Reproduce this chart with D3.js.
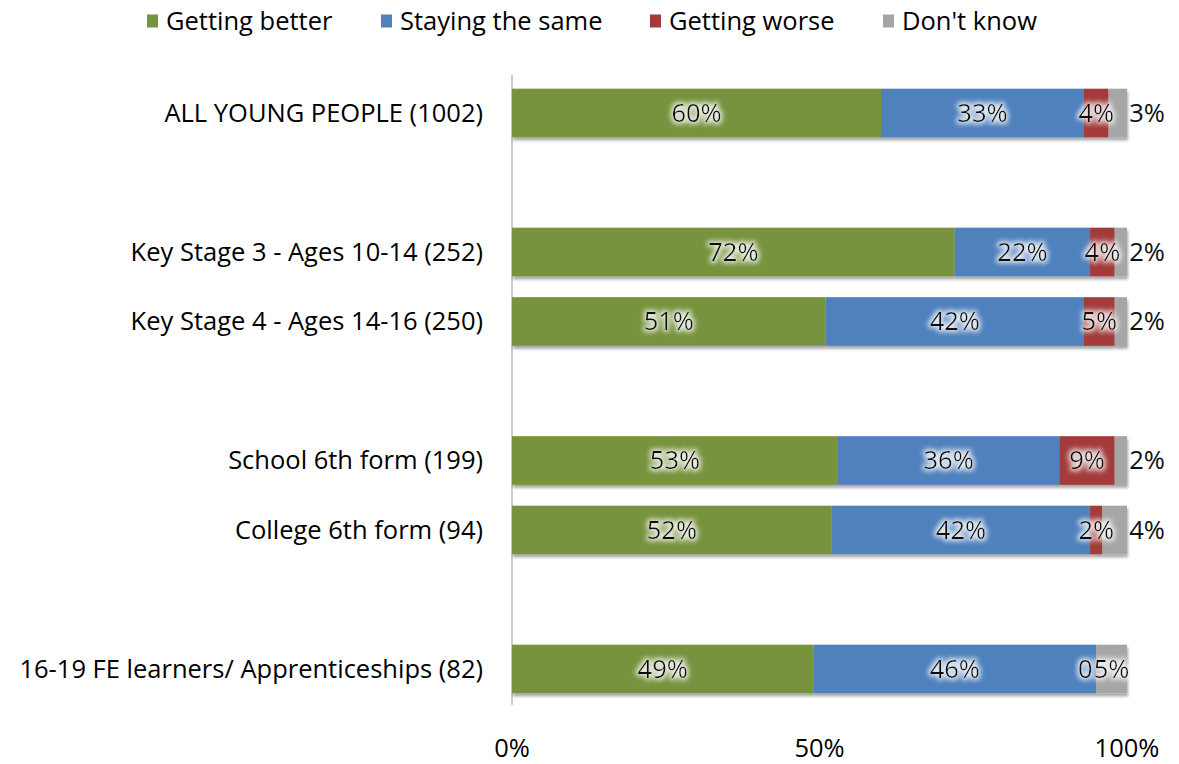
<!DOCTYPE html>
<html>
<head>
<meta charset="utf-8">
<script src="https://cdn.jsdelivr.net/npm/d3@7"></script>
<style>
  html, body { margin: 0; padding: 0; background: #fff; }
  svg { display: block; }
  text { font-family: "Open Sans", Arial, sans-serif; }
</style>
</head>
<body>
<svg id="chart" width="1179" height="764"></svg>
<script>
// Row labels; empty strings are spacer rows between groups
const categories = [
  "ALL YOUNG PEOPLE (1002)",
  "",
  "Key Stage 3 - Ages 10-14 (252)",
  "Key Stage 4 - Ages 14-16 (250)",
  "",
  "School 6th form (199)",
  "College 6th form (94)",
  "",
  "16-19 FE learners/ Apprenticeships (82)"
];
const seriesNames = ["Getting better", "Staying the same", "Getting worse", "Don't know"];
const gettingBetter   = [60, null, 72, 51, null, 53, 52, null, 49];
const stayingTheSame  = [33, null, 22, 42, null, 36, 42, null, 46];
const gettingWorse    = [4,  null, 4,  5,  null, 9,  2,  null, 0];
const dontKnow        = [3,  null, 2,  2,  null, 2,  4,  null, 5];
const tickLabels = ["0%", "50%", "100%"];
const tickValues = [0, 50, 100];

const colors = ["#77933C", "#4F81BD", "#A33B3A", "#A6A6A6"];
const seriesValues = [gettingBetter, stayingTheSame, gettingWorse, dontKnow];
const FS = 25.5;

const svg = d3.select("#chart");
const defs = svg.append("defs");

// soft shadow under bars
const sh = defs.append("filter").attr("id", "barShadow")
  .attr("x", "-5%").attr("y", "-20%").attr("width", "110%").attr("height", "150%");
sh.append("feGaussianBlur").attr("in", "SourceAlpha").attr("stdDeviation", 1.6).attr("result", "b");
sh.append("feOffset").attr("in", "b").attr("dx", 1).attr("dy", 3).attr("result", "o");
sh.append("feComponentTransfer").attr("in", "o").attr("result", "o2")
  .append("feFuncA").attr("type", "linear").attr("slope", 0.35);
const shm = sh.append("feMerge");
shm.append("feMergeNode").attr("in", "o2");
shm.append("feMergeNode").attr("in", "SourceGraphic");

// light halo around the value labels
const glow = defs.append("filter").attr("id", "glow")
  .attr("x", "-30%").attr("y", "-40%").attr("width", "160%").attr("height", "180%");
glow.append("feMorphology").attr("in", "SourceAlpha").attr("operator", "dilate").attr("radius", 2).attr("result", "d");
glow.append("feGaussianBlur").attr("in", "d").attr("stdDeviation", 2.4).attr("result", "bl");
glow.append("feFlood").attr("flood-color", "#ffffff").attr("flood-opacity", 0.8).attr("result", "c");
glow.append("feComposite").attr("in", "c").attr("in2", "bl").attr("operator", "in").attr("result", "g");
const gm = glow.append("feMerge");
gm.append("feMergeNode").attr("in", "g");
gm.append("feMergeNode").attr("in", "SourceGraphic");

const x = d3.scaleLinear().domain([0, 100]).range([512, 1127]);
const y = d3.scaleBand().domain(d3.range(categories.length))
  .range([78.25, 703.75]).paddingInner(0.3).paddingOuter(0.15);

// vertical axis line
svg.append("line")
  .attr("x1", x(0)).attr("x2", x(0))
  .attr("y1", 75).attr("y2", 705)
  .attr("stroke", "#9a9a9a").attr("stroke-width", 1);

// category labels
svg.append("g").selectAll("text")
  .data(categories)
  .join("text")
  .attr("x", 483)
  .attr("y", (d, i) => y(i) + y.bandwidth() / 2)
  .attr("dy", "0.35em")
  .attr("text-anchor", "end")
  .attr("font-size", FS)
  .attr("fill", "#000")
  .text(d => d);

// stacked segments
const rows = categories.map((c, i) => {
  let acc = 0;
  return seriesValues.map((s, k) => {
    const v = s[i];
    const seg = { row: i, k, v, x0: acc, x1: acc + (v || 0) };
    acc += v || 0;
    return seg;
  });
}).filter(r => r[0].v !== null);

const segs = rows.flat();

svg.append("g").attr("filter", "url(#barShadow)")
  .selectAll("g").data(rows).join("g")
  .selectAll("rect").data(d => d).join("rect")
  .attr("x", d => x(d.x0))
  .attr("width", d => x(d.x1) - x(d.x0))
  .attr("y", d => y(d.row))
  .attr("height", y.bandwidth())
  .attr("fill", d => colors[d.k]);

// value labels: inside segments with halo; small "Don't know" values sit past the bar end
svg.append("g").selectAll("text")
  .data(segs)
  .join("text")
  .attr("x", d => {
    if (d.k === 3 && d.v < 5) return x(100) + 20;
    if (d.k === 2 && d.v === 0) return x(d.x0) - 11;
    return (x(d.x0) + x(d.x1)) / 2;
  })
  .attr("y", d => y(d.row) + y.bandwidth() / 2)
  .attr("dy", "0.35em")
  .attr("text-anchor", "middle")
  .attr("font-size", FS)
  .attr("fill", "#111")
  .attr("filter", d => (d.k === 3 && d.v < 5) ? null : "url(#glow)")
  .text(d => d.v === 0 ? "0" : d.v + "%");

// x tick labels
svg.append("g").selectAll("text")
  .data(tickValues)
  .join("text")
  .attr("x", d => x(d))
  .attr("y", 748)
  .attr("dy", "0.35em")
  .attr("text-anchor", "middle")
  .attr("font-size", FS)
  .attr("fill", "#000")
  .text((d, i) => tickLabels[i]);

// legend
const legendX = [147, 381, 650, 883];
const legend = svg.append("g").selectAll("g")
  .data(seriesNames)
  .join("g")
  .attr("transform", (d, i) => `translate(${legendX[i]},21)`);
legend.append("rect")
  .attr("x", 0).attr("y", -6.5).attr("width", 11).attr("height", 13)
  .attr("fill", (d, i) => colors[i]);
legend.append("text")
  .attr("x", 19).attr("y", 0).attr("dy", "0.35em")
  .attr("font-size", FS).attr("fill", "#000")
  .text(d => d);
</script>
</body>
</html>
